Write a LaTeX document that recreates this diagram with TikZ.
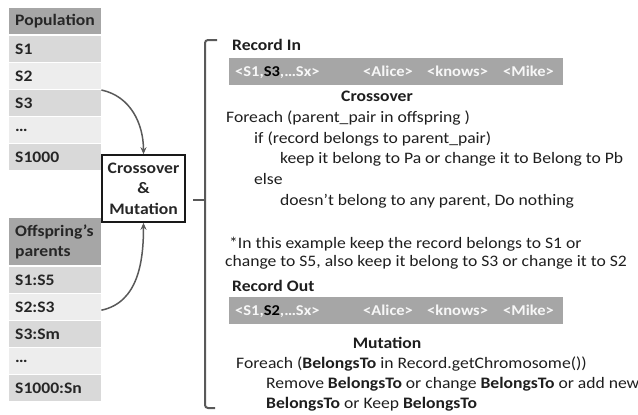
\documentclass[tikz,border=0pt]{standalone}
\usepackage{fontspec}
\setmainfont{Carlito}[FakeStretch=1.1]
\usetikzlibrary{arrows.meta}

\definecolor{headgray}{HTML}{A6A6A6}
\definecolor{rowdark}{HTML}{D9D9D9}
\definecolor{rowlight}{HTML}{EDEDED}
\definecolor{tabtext}{HTML}{262626}
\definecolor{bargray}{HTML}{A6A6A6}
\definecolor{bartext}{HTML}{F7F7F7}
\definecolor{linegray}{HTML}{595959}
\definecolor{bodytext}{HTML}{1E1E1E}

\tikzset{
  cell/.style={anchor=north west, minimum height=26pt, text width=80pt,
    inner xsep=6pt, inner ysep=0pt, align=left, text=tabtext,
    font=\fontsize{16}{20}\selectfont\bfseries},
  headcell/.style={cell, fill=headgray},
  rowA/.style={cell, fill=rowdark},
  rowB/.style={cell, fill=rowlight},
  cmbox/.style={draw=black!90, line width=1.6pt, fill=white, minimum width=83pt,
    minimum height=67pt, align=center, inner sep=0pt,
    font=\fontsize{16}{20.5}\selectfont\bfseries, text=tabtext},
  flow/.style={draw=linegray, line width=1.5pt, -{Stealth[length=7pt,width=6pt]}},
  bracket/.style={draw=linegray, line width=2pt, rounded corners=3pt},
  txt/.style={anchor=base west, inner sep=0pt, text=bodytext,
    font=\fontsize{16}{20}\selectfont},
  btxt/.style={txt, font=\fontsize{16}{20}\selectfont\bfseries},
  heading/.style={anchor=base, inner sep=0pt, text=bodytext,
    font=\fontsize{16}{20}\selectfont\bfseries},
  recbar/.style={anchor=north west, fill=bargray, minimum width=334pt,
    minimum height=26.5pt, inner sep=0pt},
  bartxt/.style={anchor=base west, inner sep=0pt, text=bartext,
    font=\fontsize{15}{17}\selectfont\bfseries}
}

\begin{document}
\begin{tikzpicture}[x=1pt, y=-1pt]
\useasboundingbox (0,0) rectangle (638,415);

% population table
\node[headcell] (pH) at (9,8) {Population};
\node[rowA] (p1) at (9,36) {S1};
\node[rowB] (p2) at (9,63) {S2};
\node[rowA] (p3) at (9,90) {S3};
\node[rowB] (p4) at (9,117) {…};
\node[rowA] (p5) at (9,144) {S1000};

% offspring parents table
\node[headcell, minimum height=47pt] (oH) at (9,218) {Offspring’s\\parents};
\node[rowA] (o1) at (9,267) {S1:S5};
\node[rowB] (o2) at (9,294) {S2:S3};
\node[rowA] (o3) at (9,321) {S3:Sm};
\node[rowB] (o4) at (9,348) {…};
\node[rowA] (o5) at (9,375) {S1000:Sn};

% operator box
\node[cmbox] (cm) at (143.5,188.5) {Crossover\\\&\\Mutation};

\draw[flow] (p3.north east) to[out=-12, in=90] (cm.north);
\draw[flow] ([yshift=-3pt]o2.east) to[out=12, in=-90] (cm.south);

% bracket
\draw[bracket] (217,40) -- (205,40) -- (205,408) -- (215,408);
\draw[draw=linegray, line width=2pt] (205,200) -- (193,200);

% record in
\node[btxt] (recIn) at (232,50) {Record In};
\node[recbar] (barIn) at (229,58) {};
\node[bartxt] (inChr) at (235,76) {<S1,\textcolor{black}{S3},…Sx>};
\node[bartxt] (inSub) at (363,76) {<Alice>};
\node[bartxt] (inPre) at (427,76) {<knows>};
\node[bartxt] (inObj) at (503,76) {<Mike>};

% crossover pseudocode
\node[heading] (hCross) at (377,101) {Crossover};
\node[txt] (c1) at (226,122) {Foreach (parent\_pair in offspring )};
\node[txt] (c2) at (254,143) {if (record belongs to parent\_pair)};
\node[txt] (c3) at (280,163) {keep it belong to Pa or change it to Belong to Pb};
\node[txt] (c4) at (254,184) {else};
\node[txt] (c5) at (280,205) {doesn’t belong to any parent, Do nothing};

\node[txt] (n1) at (229,248) {*In this example keep the record belongs to S1 or};
\node[txt] (n2) at (225,266) {change to S5, also keep it belong to S3 or change it to S2};

% record out
\node[btxt] (recOut) at (232,291) {Record Out};
\node[recbar] (barOut) at (229,297) {};
\node[bartxt] (outChr) at (235,315) {<S1,\textcolor{black}{S2},…Sx>};
\node[bartxt] (outSub) at (363,315) {<Alice>};
\node[bartxt] (outPre) at (427,315) {<knows>};
\node[bartxt] (outObj) at (503,315) {<Mike>};

% mutation pseudocode
\node[heading] (hMut) at (387,348) {Mutation};
\node[txt] (m1) at (236,368) {Foreach (\textbf{BelongsTo} in Record.getChromosome())};
\node[txt] (m2) at (266,388) {Remove \textbf{BelongsTo} or change \textbf{BelongsTo} or add new};
\node[txt] (m3) at (266,408) {\textbf{BelongsTo} or Keep \textbf{BelongsTo}};
\end{tikzpicture}
\end{document}
